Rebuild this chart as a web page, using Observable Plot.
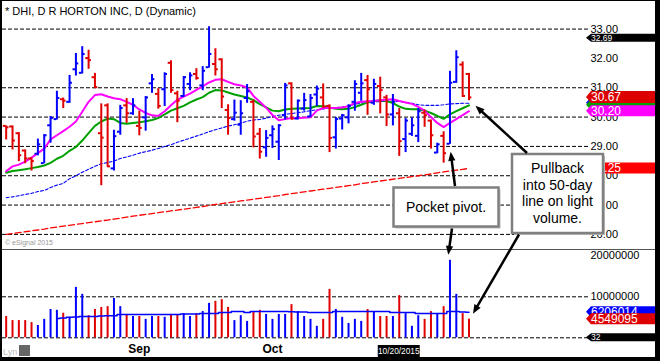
<!DOCTYPE html>
<html>
<head>
<meta charset="utf-8">
<script src="https://cdn.jsdelivr.net/npm/d3@7"></script>
<script src="https://cdn.jsdelivr.net/npm/@observablehq/plot@0.6"></script>
<style>
html,body{margin:0;padding:0;background:#fff;}
#chart{position:relative;width:660px;height:361px;overflow:hidden;background:#fff;}
#chart svg{position:absolute;left:0;}
</style>
</head>
<body>
<div id="chart"></div>
<script>
// ---------- data ----------
const title = "* DHI, D R HORTON INC, D (Dynamic)";
const open = [29.70,29.68,29.45,28.86,28.59,28.75,28.43,29.72,29.93,30.61, 30.52,31.63,31.51,32.01,31.36,29.45,30.40,28.25,29.50,30.40, 30.13,29.70,29.99,31.15,30.79,30.95,31.85,30.81,30.72,31.13, 31.47,31.08,31.70,31.81,31.97,30.24,29.93,29.74,30.65,30.52, 29.43,28.97,29.38,29.16,30.06,31.15,29.95,30.29,30.02,30.77, 30.67,30.38,29.31,29.95,29.99,30.52,30.83,31.26,30.49,31.06, 30.67,30.09,30.13,29.25,29.43,29.36,30.15,29.88,28.79,29.36, 29.09,31.20,31.79,31.47];
const high = [29.70,29.70,29.47,28.88,28.61,29.25,29.40,30.02,30.88,30.65, 31.42,32.17,32.40,32.28,31.49,30.45,30.45,29.55,30.40,30.63, 30.63,30.20,30.70,31.45,30.97,31.51,31.92,30.88,31.38,31.51, 31.65,31.72,33.08,32.33,31.99,30.42,30.58,30.56,31.11,30.58, 29.61,29.54,29.70,29.74,31.15,31.17,30.58,30.81,30.77,31.06, 31.13,30.42,29.99,30.09,30.42,31.24,31.49,31.42,31.29,31.36, 30.74,30.77,30.29,29.95,29.97,30.29,30.24,29.90,29.11,29.50, 31.56,32.26,31.88,31.49];
const low = [29.22,28.88,28.48,28.41,28.16,28.68,28.41,29.11,29.90,30.29, 30.47,31.40,31.47,31.63,30.97,27.66,28.29,28.16,29.38,29.79, 30.06,29.36,29.52,30.81,30.27,30.36,30.81,29.81,30.67,30.90, 31.26,30.90,31.67,31.40,30.29,29.38,29.86,29.38,30.47,28.95, 28.57,28.63,28.93,28.52,29.90,29.90,29.90,30.20,29.99,30.36, 30.31,28.79,28.91,29.56,29.77,30.20,30.54,30.06,30.40,30.11, 29.68,29.70,28.66,28.79,29.34,29.13,29.65,28.91,28.75,28.43, 29.07,31.15,30.67,30.56];
const close = [29.65,29.20,28.70,28.59,28.50,29.07,29.38,29.97,30.65,30.56, 31.17,31.83,32.15,31.94,31.02,29.30,28.32,29.35,30.31,30.13, 30.40,29.63,30.67,31.29,30.38,31.47,30.92,30.56,31.36,31.42, 31.33,31.58,32.15,31.63,30.70,29.97,30.15,30.13,30.88,29.34, 28.82,29.29,29.59,29.72,31.08,29.95,30.56,30.58,30.65,30.97, 30.36,29.29,29.93,30.06,30.38,31.13,31.15,30.95,31.13,30.92, 30.09,30.52,29.18,29.88,29.72,30.20,30.06,29.38,29.07,28.77, 31.17,32.04,30.72,30.67];
// volume, millions of shares
const volume = [5.2,4.2,4.2,4.2,3.7,3.0,4.5,6.9,6.7,6.0, 5.0,12.3,10.6,5.4,6.9,7.4,7.6,9.6,7.6,5.7, 5.2,5.2,4.5,5.2,5.2,5.0,5.7,5.7,5.9,5.2, 5.9,6.4,8.4,8.9,9.3,7.4,4.2,5.4,4.0,6.4, 6.7,5.7,4.5,5.7,5.7,8.1,6.4,5.2,4.5,2.8, 4.5,11.8,6.9,5.0,3.5,4.5,4.0,6.9,6.4,5.2, 5.2,5.2,10.3,5.9,2.8,5.4,4.5,6.4,5.9,7.6, 18.9,10.6,5.9,4.549095];
const volumeMA = [null,null,null,null,null,null,null,null,4.7,4.8, 5.0,5.1,5.2,5.2,5.2,5.3,5.4,5.4,5.7,5.7, 5.7,5.7,5.7,5.7,5.7,5.7,5.7,5.7,5.8,5.8, 5.8,5.9,5.9,5.9,6.2,6.2,6.4,6.4,6.2,6.4, 6.4,6.4,6.4,6.4,6.4,6.35,6.3,6.3,6.2,6.2, 6.2,6.2,6.4,6.4,6.4,6.4,6.4,6.4,6.4,6.4, 6.4,6.2,6.2,6.2,6.2,5.9,5.9,5.9,5.9,5.9, 6.4,6.4,6.3,6.206014];
const ma10 = [28.15,28.32,28.38,28.48,28.62,28.77,28.92,29.24,29.38,29.52, 29.67,29.85,30.18,30.52,30.75,30.78,30.70,30.64,30.61,30.52, 30.42,30.26,30.14,30.06,30.04,30.20,30.40,30.59,30.70,30.80, 30.93,31.05,31.18,31.27,31.29,31.20,31.12,31.08,31.01,30.72, 30.52,30.32,30.07,29.89,29.93,29.97,29.97,29.98,29.99,30.22, 30.31,30.31,30.31,30.33,30.37,30.48,30.52,30.54,30.55,30.57, 30.59,30.61,30.55,30.50,30.45,30.35,30.22,30.00,29.80,29.66, 29.80,29.93,30.07,30.20];
const ma20 = [28.10,28.16,28.19,28.22,28.26,28.30,28.35,28.44,28.58,28.68, 28.85,28.98,29.20,29.45,29.70,29.85,29.95,29.93,29.80,29.77, 29.80,29.82,29.86,29.90,29.97,30.09,30.22,30.30,30.38,30.50, 30.60,30.68,30.83,30.92,30.91,30.84,30.77,30.72,30.67,30.58, 30.44,30.33,30.22,30.20,30.26,30.28,30.29,30.30,30.31,30.38, 30.37,30.33,30.28,30.27,30.28,30.34,30.42,30.50,30.55,30.57, 30.55,30.48,30.36,30.28,30.27,30.27,30.22,30.14,30.04,29.94, 30.09,30.20,30.30,30.40];
const ma50 = [27.25,27.28,27.32,27.36,27.40,27.46,27.50,27.60,27.68,27.74, 27.90,28.00,28.12,28.22,28.32,28.41,28.45,28.50,28.59,28.64, 28.70,28.77,28.82,28.87,28.93,29.00,29.06,29.14,29.21,29.28, 29.35,29.42,29.50,29.57,29.63,29.69,29.74,29.79,29.86,29.90, 29.92,29.96,30.02,30.06,30.10,30.12,30.15,30.18,30.22,30.25, 30.28,30.31,30.32,30.34,30.38,30.44,30.48,30.50,30.52,30.53, 30.54,30.54,30.53,30.50,30.47,30.42,30.40,30.40,30.40,30.42, 30.45,30.46,30.47,30.47];
const ma200 = [26.00,26.03,26.06,26.09,26.12,26.15,26.18,26.22,26.25,26.28, 26.31,26.34,26.37,26.40,26.43,26.46,26.49,26.52,26.55,26.59, 26.62,26.65,26.68,26.71,26.74,26.77,26.80,26.83,26.86,26.89, 26.92,26.95,26.99,27.02,27.05,27.08,27.11,27.14,27.17,27.20, 27.23,27.26,27.29,27.32,27.36,27.39,27.42,27.45,27.48,27.51, 27.54,27.57,27.60,27.63,27.66,27.69,27.73,27.76,27.79,27.82, 27.85,27.88,27.91,27.94,27.97,28.00,28.03,28.06,28.10,28.13, 28.16,28.19,28.22,28.25];
const priceTicks = [26,27,28,29,30,31,32,33];
const priceGrid = [26,27,28,29,30,31,33];
const volTicks = [10,20];
const volGrid = [0,10];
const monthBars = [22,43];
const monthLabels = ["Sep","Oct"];
const cursorBar = 63, cursorLabel = "10/20/2015";
const highTagValue = 32.69, highTagText = "32.69";
const studyTagText = "32";
const note1 = ["Pocket pivot."];
const note2 = ["Pullback","into 50-day","line on light","volume."];
const copyright = "\u00A9 eSignal 2015";

// ---------- build ----------
const FONT = "'Liberation Sans', Arial, sans-serif";
const BLUE = "#0000ff", RED = "#e00000";
const days = open.map((o, k) => ({
  i: k + 1, open: o, high: high[k], low: low[k], close: close[k],
  vol: volume[k], volMA: volumeMA[k], ma10: ma10[k], ma20: ma20[k], ma50: ma50[k], ma200: ma200[k],
  color: close[k] >= o ? BLUE : RED
}));
const months = monthBars.map((b, k) => ({i: b, label: monthLabels[k]}));
const xDomain = [0.42, 92.85];
const th = 0.45;
const baseStyle = {fontFamily: FONT, fontSize: "11px", color: "#000", background: "transparent", overflow: "visible"};

const price = Plot.plot({
  width: 660, height: 249, marginLeft: 2, marginRight: 72, marginTop: 20, marginBottom: 0,
  style: baseStyle,
  x: {domain: xDomain, axis: null},
  y: {domain: [25.485, 33.293], axis: "right", ticks: priceTicks, tickFormat: d => d.toFixed(2), tickSize: 0, tickPadding: 2, label: null},
  marks: [
    Plot.ruleY(priceGrid, {stroke: "#000", strokeWidth: 1, strokeDasharray: "4,2"}),
    Plot.line(days, {x: "i", y: "ma200", stroke: "#ff0000", strokeWidth: 1.3, strokeDasharray: "6,3"}),
    Plot.line(days, {x: "i", y: "ma50", stroke: "#0000ff", strokeWidth: 1.1, strokeDasharray: "3,2"}),
    Plot.line(days, {x: "i", y: "ma20", stroke: "#00a000", strokeWidth: 2}),
    Plot.line(days, {x: "i", y: "ma10", stroke: "#ff00ff", strokeWidth: 2}),
    Plot.ruleX(days, {x: "i", y1: "low", y2: "high", stroke: "color", strokeWidth: 2}),
    Plot.ruleY(days, {y: "open", x1: d => d.i - th, x2: "i", stroke: "color", strokeWidth: 2}),
    Plot.ruleY(days, {y: "close", x1: "i", x2: d => d.i + th, stroke: "color", strokeWidth: 2})
  ]
});

const vol = Plot.plot({
  width: 660, height: 112, marginLeft: 2, marginRight: 72, marginTop: 0, marginBottom: 23.7,
  style: baseStyle,
  x: {domain: xDomain, axis: null},
  y: {domain: [0, 21.54], axis: "right", ticks: volTicks, tickFormat: d => String(Math.round(d * 1e6)), tickSize: 0, tickPadding: 2, label: null},
  marks: [
    Plot.ruleY(volGrid, {stroke: "#000", strokeWidth: 1, strokeDasharray: "4,2"}),
    Plot.ruleX(days, {x: "i", y1: 0, y2: "vol", stroke: "color", strokeWidth: 2}),
    Plot.line(days, {x: "i", y: "volMA", stroke: BLUE, strokeWidth: 1.5, curve: "step"}),
    Plot.text(months, {x: "i", text: "label", frameAnchor: "bottom", dy: 15, fontWeight: "bold", fontSize: 12, fill: "#000"})
  ]
});

const root = document.getElementById("chart");
price.style.top = "0px";
vol.style.top = "249px";
root.appendChild(price);
root.appendChild(vol);

function fn(plot, name) {
  const s = plot.scale(name);
  if (s && typeof s.apply === "function") return v => s.apply(v);
  return d3.scaleLinear(s.domain, s.range);
}
const xS = fn(price, "x");
const yP = fn(price, "y");
const yVs = fn(vol, "y");
const yV = v => 249 + yVs(v);

const ov = d3.create("svg").attr("width", 660).attr("height", 361)
  .style("top", "0px").style("font-family", FONT).style("pointer-events", "none");

// title & small texts
ov.append("text").attr("x", 5).attr("y", 15).attr("font-size", 11).attr("fill", "#000").text(title);
ov.append("text").attr("x", 5).attr("y", 245).attr("font-size", 7).attr("fill", "#999").text(copyright);
ov.append("line").attr("x1", 2).attr("x2", 656).attr("y1", 249.5).attr("y2", 249.5).attr("stroke", "#555").attr("stroke-width", 1);
ov.append("text").attr("x", 3).attr("y", 355).attr("font-size", 9).attr("fill", "#bbb").text("Lyn");
ov.append("rect").attr("x", 19).attr("y", 345).attr("width", 11).attr("height", 11).attr("fill", "#666");

// cursor date label
const cx = xS(cursorBar);
ov.append("rect").attr("x", cx - 21).attr("y", 345).attr("width", 42).attr("height", 12).attr("fill", "#000");
ov.append("text").attr("x", cx).attr("y", 351).attr("dy", "0.35em").attr("text-anchor", "middle").attr("font-size", 8.3).attr("fill", "#fff").text(cursorLabel);

// value tags on the right
function tag(yc, h, fill, text, fs) {
  const x0 = 586, x1 = 660, p = 5;
  ov.append("path").attr("d", `M${x0},${yc}L${x0 + p},${yc - h / 2}H${x1}V${yc + h / 2}H${x0 + p}Z`).attr("fill", fill);
  if (text) ov.append("text").attr("x", x0 + 5).attr("y", yc).attr("dy", "0.36em").attr("fill", "#fff").attr("font-size", fs).text(text);
}
const L = days.length - 1;
tag(yP(highTagValue), 8, "#000", highTagText, 8.5);
tag(yP(ma50[L]), 11, BLUE, null);
tag(yP(ma20[L]), 11, "#00a000", null);
tag(yP(close[L]), 12, "#dd0000", close[L].toFixed(2), 12);
tag(yP(ma10[L]), 11, "#ff00ff", ma10[L].toFixed(2), 12);
tag(yP(ma200[L]), 11, "#ff0000", ma200[L].toFixed(2), 12);
tag(yV(volumeMA[L]), 11, BLUE, String(Math.round(volumeMA[L] * 1e6)), 12);
tag(yV(volume[L]), 11, "#dd0000", String(Math.round(volume[L] * 1e6)), 12);
tag(yV(0), 8, "#000", studyTagText, 8.5);

// annotation boxes
function box(x, y, w, h, lines, baseline, step) {
  ov.append("rect").attr("x", x + 2).attr("y", y + 2).attr("width", w).attr("height", h).attr("fill", "#bdbdbd");
  ov.append("rect").attr("x", x).attr("y", y).attr("width", w).attr("height", h).attr("fill", "#fff").attr("stroke", "#808080").attr("stroke-width", 2.5);
  lines.forEach((t, k) => ov.append("text").attr("x", x + w / 2).attr("y", baseline + k * step)
    .attr("text-anchor", "middle").attr("font-size", 14).attr("fill", "#000").text(t));
}
function arrow(x1, y1, x2, y2) {
  const dx = x2 - x1, dy = y2 - y1, len = Math.hypot(dx, dy), ux = dx / len, uy = dy / len;
  const hl = 9, hw = 3.6;
  const bx = x2 - ux * hl, by = y2 - uy * hl;
  ov.append("line").attr("x1", x1).attr("y1", y1).attr("x2", bx + ux * 2).attr("y2", by + uy * 2).attr("stroke", "#000").attr("stroke-width", 2.5);
  ov.append("path").attr("d", `M${x2},${y2}L${bx - uy * hw},${by + ux * hw}L${bx + uy * hw},${by - ux * hw}Z`).attr("fill", "#000");
}
box(393.5, 187.5, 105, 39, note1, 212, 0);
box(512, 154, 91, 79, note2, 173, 16.7);
const x71 = xS(71), x74 = xS(74);
arrow(455, 186, x71 + 1.2, yP(low[70]) + 8);
arrow(452, 228.5, x71 - 1.2, yV(volume[70]) - 5);
arrow(527, 153, x74 + 7, yP(ma50[L]) + 3);
arrow(519, 234.5, x74 + 4.5, yV(volume[L]) - 5);

// frame
ov.append("rect").attr("x", 0).attr("y", 0).attr("width", 2).attr("height", 361).attr("fill", "#000");
ov.append("rect").attr("x", 0).attr("y", 0).attr("width", 660).attr("height", 1).attr("fill", "#000");
ov.append("rect").attr("x", 655).attr("y", 0).attr("width", 5).attr("height", 361).attr("fill", "#000");
ov.append("rect").attr("x", 0).attr("y", 357).attr("width", 660).attr("height", 4).attr("fill", "#000");

root.appendChild(ov.node());
</script>
</body>
</html>
